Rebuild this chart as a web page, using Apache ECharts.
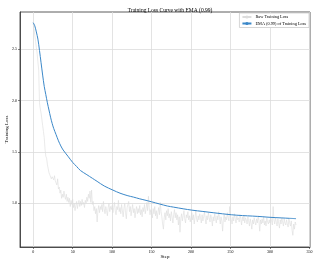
<!DOCTYPE html>
<html><head><meta charset="utf-8">
<script src="https://cdn.jsdelivr.net/npm/echarts@6/dist/echarts.min.js"></script>
<style>html,body{margin:0;padding:0;background:#fff}#c{width:319px;height:266px}</style>
</head><body><div id="c"></div>
<script>
const title = "Training Loss Curve with EMA (0.99)";
const xName = "Step";
const yName = "Training Loss";
const rawName = "Raw Training Loss";
const emaName = "EMA (0.99) of Training Loss";
const xTicks = [0, 50, 100, 150, 200, 250, 300, 350];
const yTicks = [1.0, 1.5, 2.0, 2.5];
// raw loss per step, steps 0..333
const rawLoss = [
2.75,2.70,2.64,2.58,2.52,2.46,2.38,2.30,1.98,1.92,
1.88,1.82,1.76,1.70,1.64,1.53,1.46,1.44,1.38,1.34,
1.30,1.28,1.27,1.24,1.26,1.25,1.23,1.27,1.22,1.21,
1.18,1.24,1.14,1.16,1.10,1.13,1.05,1.09,1.06,1.12,
1.07,1.04,1.09,1.02,1.06,1.01,1.05,0.97,1.03,0.99,
1.04,0.96,1.00,0.93,0.98,1.02,0.95,1.00,1.03,0.97,
1.02,0.98,1.04,0.99,1.01,0.96,1.03,1.00,1.06,1.02,
1.09,1.05,1.12,1.01,1.13,0.99,1.02,0.93,0.97,0.90,
0.95,0.82,0.93,0.98,0.91,0.97,0.94,0.99,0.92,1.02,
0.95,0.90,0.97,0.93,0.88,0.96,1.00,0.92,0.97,0.94,
0.98,0.91,0.96,1.01,0.93,0.89,0.97,0.94,1.03,0.92,
0.96,0.90,0.99,0.93,0.87,0.95,1.00,0.91,0.85,0.96,
0.99,1.02,0.92,0.97,0.88,0.94,0.99,0.91,0.95,0.86,
0.93,0.97,0.90,0.95,0.91,0.98,0.89,0.94,0.87,0.96,
0.92,0.99,0.90,0.95,1.01,0.93,1.07,0.96,0.89,0.94,
0.91,0.86,0.95,0.90,0.97,0.88,0.93,0.85,0.91,0.96,
0.89,1.01,0.92,0.87,0.80,0.75,0.86,0.91,0.84,0.93,
0.88,0.95,0.86,0.90,0.83,0.92,0.87,0.81,0.89,0.94,
0.86,0.91,0.84,0.89,0.79,0.87,0.72,0.85,0.90,0.83,
0.88,0.93,0.85,0.81,0.89,0.86,0.92,0.84,0.88,0.82,
0.87,0.91,0.84,0.89,0.80,0.86,0.93,0.85,0.82,0.88,
0.84,0.90,0.86,0.81,0.89,0.83,0.87,0.92,0.85,0.80,
0.88,0.84,0.91,0.86,0.82,0.89,0.85,0.78,0.87,0.83,
0.90,0.85,0.81,0.88,0.84,0.92,0.86,0.80,0.87,0.83,
0.73,0.85,0.89,0.82,0.87,0.84,0.91,0.86,0.83,0.97,
0.88,0.84,0.80,0.87,0.83,0.90,0.85,0.81,0.88,0.84,
0.86,0.82,0.89,0.85,0.79,0.87,0.83,0.88,0.81,0.86,
0.84,0.80,0.87,0.83,0.78,0.85,0.81,0.75,0.84,0.80,
0.86,0.82,0.79,0.85,0.81,0.88,0.83,0.73,0.84,0.80,
0.85,0.81,0.87,0.79,0.83,0.78,0.86,0.82,0.80,0.84,
0.81,0.87,0.83,0.79,0.97,0.84,0.80,0.86,0.82,0.78,
0.85,0.81,0.76,0.84,0.80,0.86,0.82,0.78,0.85,0.81,
0.79,0.84,0.80,0.77,0.85,0.81,0.78,0.83,0.74,0.69,
0.80,0.75,0.82,0.79
];
// EMA curve read at selected steps
const emaSteps = [0,2,4,6,8,10,12,14,16,18,20,22,24,26,29,32,35,38,44,50,55,60,68,75,81,90,101,110,120,127,135,143,150,160,170,178,190,201,215,228,240,251,265,278,290,300,315,325,333];
const emaLoss = [2.76,2.73,2.67,2.60,2.49,2.37,2.25,2.14,2.06,1.98,1.91,1.84,1.78,1.73,1.67,1.61,1.56,1.52,1.46,1.40,1.36,1.32,1.28,1.245,1.215,1.17,1.13,1.10,1.075,1.062,1.045,1.03,1.016,0.995,0.975,0.964,0.948,0.935,0.922,0.91,0.899,0.89,0.882,0.877,0.871,0.865,0.859,0.855,0.852];

const rawData = rawLoss.map((v, i) => [i, v]);
const emaData = emaSteps.map((s, i) => [s, emaLoss[i]]);
const FONT = "Liberation Serif";
const chart = echarts.init(document.getElementById('c'), null, {renderer: 'canvas'});
chart.setOption({
  animation: false,
  backgroundColor: '#fff',
  title: {text: title, left: 165, top: 3, textAlign: 'center',
    textStyle: {fontFamily: FONT, fontSize: 5.5, fontWeight: 'normal', color: '#000'}},
  legend: {
    orient: 'vertical', right: 10, top: 13, itemGap: 2.5, itemWidth: 9, itemHeight: 4,
    padding: [2, 3, 2, 2], borderColor: '#cccccc', borderWidth: 0.8, backgroundColor: '#fff',
    textStyle: {fontFamily: FONT, fontSize: 4.3, color: '#000', padding: [0,0,0,-1]},
    data: [rawName, emaName]
  },
  grid: {left: 20, right: 9, top: 12, bottom: 19, containLabel: false, outerBoundsMode: 'none',
    show: true, borderColor: '#333', borderWidth: 0.8, backgroundColor: 'transparent'},
  xAxis: {
    type: 'value', min: -16.7, max: 350.7,
    name: xName, nameLocation: 'middle', nameGap: 7, nameMoveOverlap: false,
    nameTextStyle: {fontFamily: FONT, fontSize: 5, color: '#000', verticalAlign: 'top'},
    axisLine: {show: true, onZero: false, lineStyle: {color: '#333', width: 0.8}},
    axisTick: {show: true, length: 2, customValues: xTicks, lineStyle: {color: '#333', width: 0.6}},
    axisLabel: {customValues: xTicks, fontFamily: FONT, fontSize: 4, color: '#000', margin: 3},
    splitLine: {show: true, lineStyle: {color: '#dcdcdc', width: 0.8}}
  },
  yAxis: {
    type: 'value', min: 0.576, max: 2.864,
    name: yName, nameLocation: 'middle', nameGap: 11, nameRotate: 90, nameMoveOverlap: false,
    nameTextStyle: {fontFamily: FONT, fontSize: 5, color: '#000', verticalAlign: 'bottom'},
    axisLine: {show: true, onZero: false, lineStyle: {color: '#333', width: 0.8}},
    axisTick: {show: true, length: 2, customValues: yTicks, lineStyle: {color: '#333', width: 0.6}},
    axisLabel: {customValues: yTicks, fontFamily: FONT, fontSize: 4, color: '#000', margin: 3,
      formatter: v => v.toFixed(1)},
    splitLine: {show: true, lineStyle: {color: '#dcdcdc', width: 0.8}}
  },
  series: [
    {name: rawName, type: 'line', data: rawData, symbol: 'none', z: 2,
      lineStyle: {color: '#dcdcdc', width: 0.6}, itemStyle: {color: '#dcdcdc'}},
    {name: emaName, type: 'line', data: emaData, symbol: 'none', smooth: 0.3, z: 3,
      lineStyle: {color: '#3b88c9', width: 1}, itemStyle: {color: '#3b88c9'}}
  ]
});
</script></body></html>
